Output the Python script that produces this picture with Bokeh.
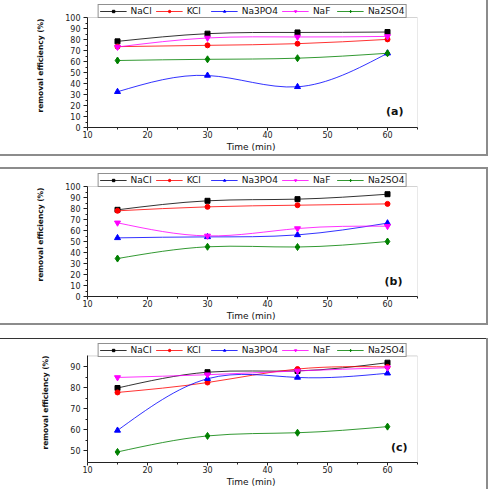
import numpy as np
from bokeh.plotting import figure
from bokeh.models import (Legend, LegendItem, Label, FixedTicker, ColumnDataSource, Range1d,
                          Spacer, BoxAnnotation)
from bokeh.layouts import column
from bokeh.embed import file_html
from bokeh.resources import INLINE

# Contact time (min)
time_min = [15, 30, 45, 60]
salts = ["NaCl", "KCl", "Na3PO4", "NaF", "Na2SO4"]

# Removal efficiency (%) -- panel (a)
a_nacl = [78.3, 85.3, 86.4, 86.8]
a_kcl = [73.5, 74.7, 76.2, 80.1]
a_na3po4 = [32.5, 47.3, 37.0, 67.5]
a_naf = [73.2, 81.4, 82.3, 82.8]
a_na2so4 = [60.9, 62.0, 63.0, 67.5]

# Removal efficiency (%) -- panel (b)
b_nacl = [78.8, 87.0, 88.5, 93.0]
b_kcl = [77.9, 81.5, 83.0, 84.2]
b_na3po4 = [53.3, 54.2, 56.0, 66.7]
b_naf = [67.0, 55.1, 61.8, 63.9]
b_na2so4 = [34.5, 45.2, 45.0, 50.0]

# Removal efficiency (%) -- panel (c)
c_nacl = [79.8, 87.3, 87.9, 91.8]
c_kcl = [77.7, 82.4, 88.8, 89.8]
c_na3po4 = [59.7, 84.2, 84.8, 86.8]
c_naf = [84.8, 86.1, 87.9, 89.4]
c_na2so4 = [49.5, 57.1, 58.6, 61.5]

x_ticks = [10, 20, 30, 40, 50, 60]
x_minor = [15, 25, 35, 45, 55, 65]
ab_y_ticks = [0, 10, 20, 30, 40, 50, 60, 70, 80, 90, 100]
c_y_ticks = [50, 60, 70, 80, 90]

COLORS = ["#000000", "#ff0000", "#0000ff", "#ff00ff", "#008000"]
MARKERS = ["square", "circle", "triangle", "inverted_triangle", "diamond"]
MSIZE = [5, 5, 6, 6, 7]
FONT = "DejaVu Sans"
GRAY = "#8c8c8c"
LEGEND_STRIP = 14  # px of frame kept above the data area for the legend


def spline_segments(xs, ys):
    """Natural cubic spline through the points, as cubic Bezier segments."""
    x = np.asarray(xs, float)
    y = np.asarray(ys, float)
    n = len(x)
    h = np.diff(x)
    A = np.zeros((n, n))
    r = np.zeros(n)
    A[0, 0] = A[-1, -1] = 1.0
    for i in range(1, n - 1):
        A[i, i - 1] = h[i - 1]
        A[i, i] = 2 * (h[i - 1] + h[i])
        A[i, i + 1] = h[i]
        r[i] = 6 * ((y[i + 1] - y[i]) / h[i] - (y[i] - y[i - 1]) / h[i - 1])
    M = np.linalg.solve(A, r)
    m = np.empty(n)
    for i in range(n - 1):
        m[i] = (y[i + 1] - y[i]) / h[i] - h[i] * (2 * M[i] + M[i + 1]) / 6
    m[-1] = (y[-1] - y[-2]) / h[-1] + h[-1] * (M[-2] + 2 * M[-1]) / 6
    return dict(
        x0=x[:-1], y0=y[:-1], x1=x[1:], y1=y[1:],
        cx0=x[:-1] + h / 3, cy0=y[:-1] + m[:-1] * h / 3,
        cx1=x[1:] - h / 3, cy1=y[1:] - m[1:] * h / 3,
    )


def make_panel(tag, series, y_lo, y_hi, y_ticks, height, data_top, border_bottom,
               border_left, tag_dx, tag_dy, css):
    data_px = height - data_top - border_bottom
    y_top = y_hi + (y_hi - y_lo) * LEGEND_STRIP / data_px
    p = figure(width=488, height=height,
               x_range=Range1d(10, 65), y_range=Range1d(y_lo, y_top),
               output_backend="svg", toolbar_location=None,
               min_border_left=border_left, min_border_right=488 - border_left - 331,
               min_border_top=data_top - LEGEND_STRIP, min_border_bottom=border_bottom)
    p.border_fill_color = None
    p.background_fill_color = "white"
    p.outline_line_color = None
    p.grid.visible = False
    p.styles = css

    # plot box around the data area only
    p.add_layout(BoxAnnotation(left=10, right=65, bottom=y_lo, top=y_hi, level="underlay",
                               fill_alpha=0, line_color="#6e6e6e", line_width=1))

    items = []
    for name, vals, col, mk, ms in zip(salts, series, COLORS, MARKERS, MSIZE):
        seg = ColumnDataSource(spline_segments(time_min, vals))
        r_line = p.bezier(x0="x0", y0="y0", x1="x1", y1="y1",
                          cx0="cx0", cy0="cy0", cx1="cx1", cy1="cy1",
                          source=seg, line_color=col, line_width=1, line_alpha=0.8)
        r_pts = p.scatter(time_min, vals, marker=mk, size=ms,
                          fill_color=col, line_color=col)
        items.append(LegendItem(label=name, renderers=[r_line, r_pts]))

    legend = Legend(items=items, orientation="horizontal", location="top_center",
                    label_text_font=FONT, label_text_font_size="9px",
                    label_text_color="#111111", label_height=8, label_standoff=4,
                    glyph_width=27, glyph_height=6, spacing=4, padding=1, margin=1,
                    border_line_color="#222222", border_line_width=1,
                    background_fill_color="white", background_fill_alpha=1)
    p.add_layout(legend)

    p.xaxis.ticker = FixedTicker(ticks=x_ticks, minor_ticks=x_minor)
    p.yaxis.ticker = FixedTicker(ticks=y_ticks,
                                 minor_ticks=[t + 5 for t in y_ticks if t + 5 < y_hi])
    p.yaxis.bounds = (y_lo, y_hi)
    for ax in (p.xaxis, p.yaxis):
        ax.axis_line_color = "#222222"
        ax.major_tick_line_color = "#222222"
        ax.minor_tick_line_color = "#222222"
        ax.major_tick_in = 0
        ax.minor_tick_in = 0
        ax.major_label_text_font = FONT
        ax.major_label_text_font_size = "8px"
        ax.major_label_text_color = "#222222"
        ax.axis_label_text_color = "#111111"
        ax.axis_label_text_font = FONT
        ax.axis_label_text_font_style = "normal"
    p.xaxis.major_tick_out = 3
    p.xaxis.minor_tick_out = 2
    p.xaxis.major_label_standoff = 0
    p.xaxis.axis_label = "Time  (min)"
    p.xaxis.axis_label_text_font_size = "9px"
    p.xaxis.axis_label_standoff = 1
    p.yaxis.major_tick_out = 4
    p.yaxis.minor_tick_out = 2
    p.yaxis.major_label_standoff = 3
    p.yaxis.axis_label = "removal efficiency (%)"
    p.yaxis.axis_label_text_font_size = "7.5px"
    p.yaxis.axis_label_text_font_style = "bold"
    p.yaxis.axis_label_standoff = 17

    p.add_layout(Label(x=65, y=y_lo, x_offset=tag_dx, y_offset=tag_dy, text=tag,
                       text_align="right", text_baseline="bottom",
                       text_font=FONT, text_font_size="11px", text_font_style="bold",
                       text_color="#111111"))
    return p


pa = make_panel("(a)", [a_nacl, a_kcl, a_na3po4, a_naf, a_na2so4], 0, 100, ab_y_ticks,
                156, 17, 29, 86, -14, 10,
                {"box-shadow": f"inset -2px -2px 0 0 {GRAY}"})
pb = make_panel("(b)", [b_nacl, b_kcl, b_na3po4, b_naf, b_na2so4], 0, 100, ab_y_ticks,
                158, 19, 29, 86, -15, 9,
                {"box-shadow": f"inset -2px 0 0 0 {GRAY}, inset 0 2px 0 0 {GRAY}, inset 0 -2px 0 0 {GRAY}"})
pc = make_panel("(c)", [c_nacl, c_kcl, c_na3po4, c_naf, c_na2so4], 44.5, 95, c_y_ticks,
                151, 18, 22, 87, -10, 9,
                {"box-shadow": f"inset -2px 0 0 0 {GRAY}, inset 0 1px 0 0 #333333"})

layout = column(pa, Spacer(height=11), pb, Spacer(height=13), pc)

with open("out.html", "w") as f:
    f.write(file_html(layout, INLINE))
